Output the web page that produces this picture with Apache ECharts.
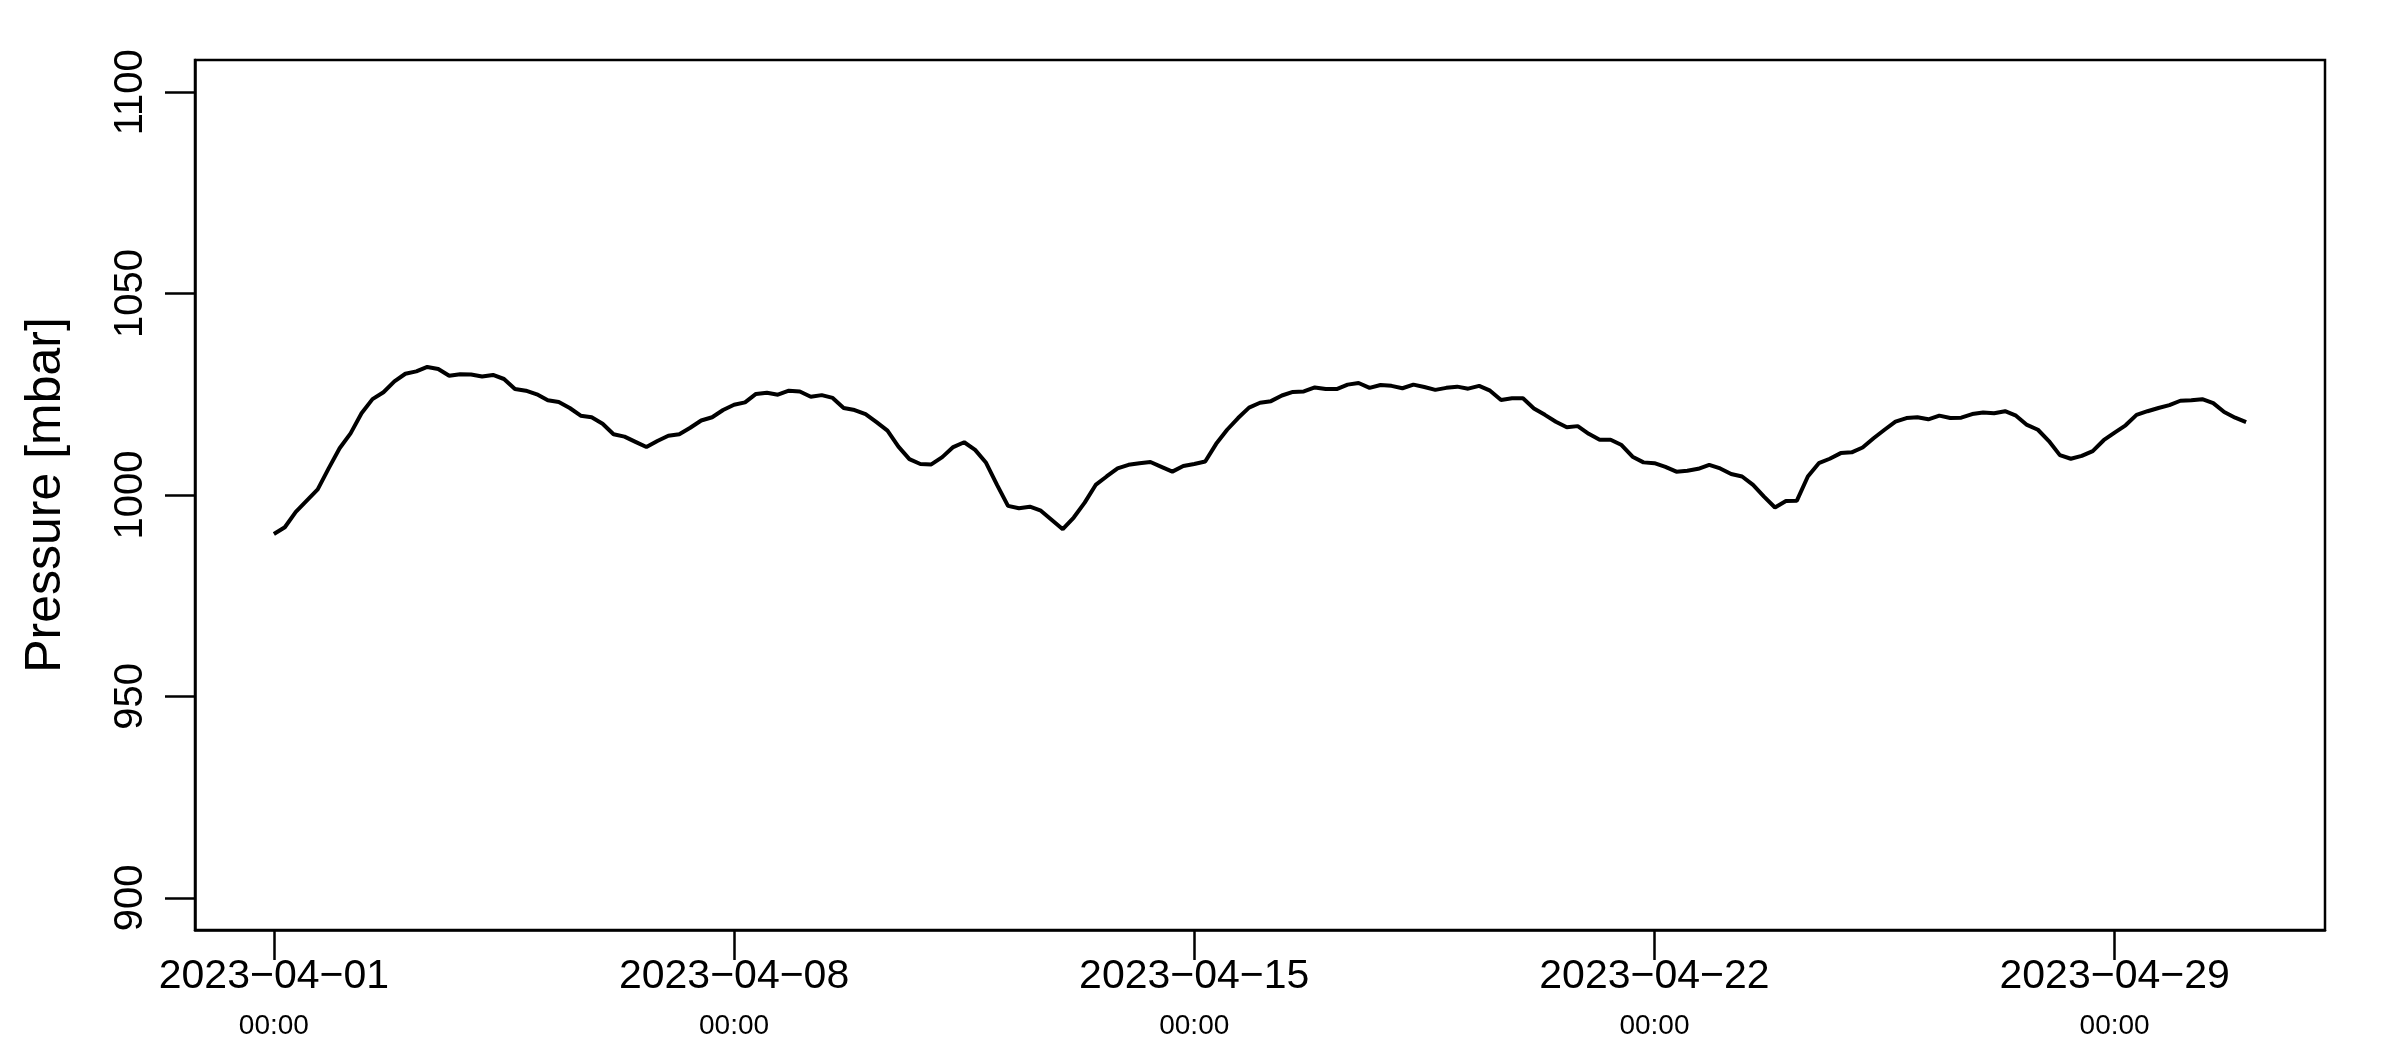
<!DOCTYPE html>
<html>
<head>
<meta charset="utf-8">
<title>Pressure</title>
<script src="https://cdn.jsdelivr.net/npm/echarts@6/dist/echarts.min.js"></script>
<style>
  html, body { margin: 0; padding: 0; background: #fff; }
  #chart { width: 2400px; height: 1050px; }
</style>
</head>
<body>
<div id="chart"></div>
<script>
// series: one reading every 4 hours from 2023-04-01 00:00 (UTC)
const startTime = Date.UTC(2023, 3, 1)
const stepHours = 4
const pressure = [
  990.3, 992.0, 995.8, 998.6, 1001.4, 1006.6, 1011.6, 1015.3, 1020.3, 1023.8,
  1025.5, 1028.2, 1030.1, 1030.7, 1031.8, 1031.3, 1029.6, 1030.0, 1029.9, 1029.4,
  1029.8, 1028.8, 1026.3, 1025.9, 1025.0, 1023.5, 1023.1, 1021.6, 1019.7, 1019.3,
  1017.7, 1015.1, 1014.5, 1013.2, 1011.9, 1013.4, 1014.7, 1015.1, 1016.7, 1018.5,
  1019.3, 1021.1, 1022.4, 1023.0, 1025.1, 1025.4, 1024.9, 1025.9, 1025.7, 1024.4,
  1024.8, 1024.1, 1021.6, 1021.1, 1020.1, 1018.1, 1016.0, 1012.0, 1008.9, 1007.7,
  1007.6, 1009.4, 1011.9, 1013.1, 1011.2, 1008.0, 1002.5, 997.3, 996.7, 997.1,
  996.1, 993.8, 991.5, 994.4, 998.1, 1002.5, 1004.6, 1006.6, 1007.5, 1007.9,
  1008.2, 1007.0, 1005.8, 1007.2, 1007.7, 1008.3, 1012.7, 1016.2, 1019.1, 1021.7,
  1022.9, 1023.3, 1024.7, 1025.6, 1025.7, 1026.7, 1026.3, 1026.3, 1027.4, 1027.8,
  1026.6, 1027.3, 1027.1, 1026.5, 1027.4, 1026.8, 1026.1, 1026.6, 1026.9, 1026.4,
  1027.1, 1025.9, 1023.6, 1024.0, 1024.0, 1021.5, 1019.9, 1018.2, 1016.8, 1017.1,
  1015.2, 1013.7, 1013.7, 1012.4, 1009.5, 1008.1, 1007.9, 1007.0, 1005.8, 1006.0,
  1006.5, 1007.5, 1006.6, 1005.2, 1004.6, 1002.5, 999.6, 996.9, 998.5, 998.6,
  1004.6, 1007.9, 1009.0, 1010.4, 1010.6, 1011.8, 1014.1, 1016.2, 1018.2, 1019.1,
  1019.3, 1018.8, 1019.7, 1019.1, 1019.2, 1020.1, 1020.5, 1020.3, 1020.8, 1019.7,
  1017.4, 1016.2, 1013.4, 1009.9, 1009.0, 1009.7, 1010.9, 1013.6, 1015.5, 1017.3,
  1019.9, 1020.8, 1021.6, 1022.3, 1023.4, 1023.5, 1023.8, 1022.8, 1020.6, 1019.2,
  1018.1
]

// tick positions
const xTickDays = ['2023-04-01', '2023-04-08', '2023-04-15', '2023-04-22', '2023-04-29']
const yTicks = [900, 950, 1000, 1050, 1100]

const HOUR = 3600 * 1000
const seriesData = pressure.map((v, i) => [startTime + i * stepHours * HOUR, v])
const xTickValues = xTickDays.map(d => {
  const p = d.split('-')
  return Date.UTC(+p[0], +p[1] - 1, +p[2])
})

// R style 4% padding around the data range
const tFirst = seriesData[0][0]
const tLast = seriesData[seriesData.length - 1][0]
const tPad = (tLast - tFirst) * 0.04
const yPad = (yTicks[yTicks.length - 1] - yTicks[0]) * 0.04

const pad2 = n => (n < 10 ? '0' : '') + n

const chart = echarts.init(document.getElementById('chart'))

const option = {
  animation: false,
  backgroundColor: '#ffffff',
  textStyle: { fontFamily: 'Liberation Sans', color: '#000' },
  grid: {
    left: 195,
    right: 75,
    top: 60,
    bottom: 120,
    show: true,
    borderColor: '#000',
    borderWidth: 2.5,
    backgroundColor: 'transparent',
  },
  xAxis: {
    // timestamps on a plain value axis so the ticks can be placed by hand
    type: 'value',
    min: tFirst - tPad,
    max: tLast + tPad,
    splitLine: { show: false },
    axisLine: { show: true, lineStyle: { color: '#000', width: 2.5 } },
    axisTick: {
      show: true,
      length: 30,
      customValues: xTickValues,
      lineStyle: { color: '#000', width: 2.5 },
    },
    axisLabel: {
      customValues: xTickValues,
      margin: 24,
      formatter: function (value) {
        const d = new Date(value)
        const day = d.getUTCFullYear() + '\u2212' + pad2(d.getUTCMonth() + 1) + '\u2212' + pad2(d.getUTCDate())
        const time = pad2(d.getUTCHours()) + ':' + pad2(d.getUTCMinutes())
        return '{a|' + day + '}\n{b|' + time + '}'
      },
      rich: {
        a: { fontSize: 41, lineHeight: 46, color: '#000', fontFamily: 'Liberation Sans' },
        b: { fontSize: 28, lineHeight: 52, color: '#000', fontFamily: 'Liberation Sans' },
      },
    },
  },
  yAxis: {
    type: 'value',
    min: yTicks[0] - yPad,
    max: yTicks[yTicks.length - 1] + yPad,
    name: 'Pressure [mbar]',
    nameLocation: 'middle',
    nameRotate: 90,
    nameGap: 124,
    nameTextStyle: { fontSize: 50, color: '#000', fontFamily: 'Liberation Sans' },
    splitLine: { show: false },
    axisLine: { show: true, lineStyle: { color: '#000', width: 2.5 } },
    axisTick: {
      show: true,
      length: 30,
      customValues: yTicks,
      lineStyle: { color: '#000', width: 2.5 },
    },
    axisLabel: {
      customValues: yTicks,
      rotate: 90,
      margin: 44,
      fontSize: 40,
      color: '#000',
      fontFamily: 'Liberation Sans',
      formatter: function (value) {
        return String(value)
      },
    },
  },
  series: [
    {
      name: 'Pressure',
      type: 'line',
      data: seriesData,
      showSymbol: false,
      symbol: 'none',
      lineStyle: { color: '#000', width: 4 },
    },
  ],
}

chart.setOption(option)
</script>
</body>
</html>
